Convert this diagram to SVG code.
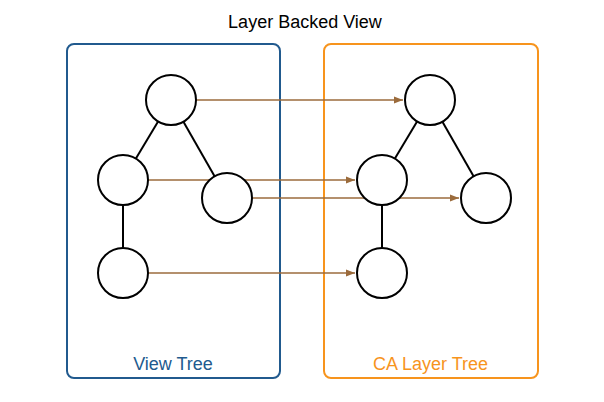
<svg xmlns="http://www.w3.org/2000/svg" width="604" height="402" viewBox="0 0 604 402">
<defs>
<style>
.title{font-family:"Liberation Sans","DejaVu Sans",sans-serif;font-size:18px;fill:#000;text-anchor:middle}
.label{font-family:"Liberation Sans","DejaVu Sans",sans-serif;font-size:18px;text-anchor:middle}
.node{fill:#fff;stroke:#000;stroke-width:2}
.edge{stroke:#000;stroke-width:2;fill:none}
.map{stroke:#9b6b3c;stroke-width:1.5;fill:none;marker-end:url(#ah)}
</style>
<marker id="ah" markerWidth="10" markerHeight="8" refX="9" refY="4" orient="auto" markerUnits="userSpaceOnUse">
<path d="M0,0.5 L9,4 L0,7.5 Z" fill="#9b6b3c"/>
</marker>
</defs>
<rect width="604" height="402" fill="#fff"/>
<text class="title" x="305" y="28">Layer Backed View</text>
<g id="viewTree">
<rect x="67" y="44" width="213" height="334" rx="7" fill="none" stroke="#215a8e" stroke-width="2"/>
<text class="label" x="173" y="370" fill="#215a8e">View Tree</text>
</g>
<g id="caLayerTree">
<rect x="324" y="44" width="214" height="334" rx="7" fill="none" stroke="#f7941d" stroke-width="2"/>
<text class="label" x="430.5" y="370" fill="#f7941d">CA Layer Tree</text>
</g>
<g id="connectors">
<line class="edge" x1="171" y1="100" x2="123" y2="180"/>
<line class="edge" x1="171" y1="100" x2="227" y2="198"/>
<line class="edge" x1="123" y1="180" x2="123" y2="273"/>
<line class="edge" x1="430" y1="100" x2="382" y2="180"/>
<line class="edge" x1="430" y1="100" x2="486" y2="198"/>
<line class="edge" x1="382" y1="180" x2="382" y2="273"/>
<line class="map" x1="196" y1="100" x2="403" y2="100"/>
<line class="map" x1="148" y1="180" x2="355" y2="180"/>
<line class="map" x1="252" y1="198" x2="459" y2="198"/>
<line class="map" x1="148" y1="273" x2="355" y2="273"/>
</g>
<g id="v-root"><circle class="node" cx="171" cy="100" r="25"/></g>
<g id="v-left"><circle class="node" cx="123" cy="180" r="25"/></g>
<g id="v-right"><circle class="node" cx="227" cy="198" r="25"/></g>
<g id="v-bottom"><circle class="node" cx="123" cy="273" r="25"/></g>
<g id="l-root"><circle class="node" cx="430" cy="100" r="25"/></g>
<g id="l-left"><circle class="node" cx="382" cy="180" r="25"/></g>
<g id="l-right"><circle class="node" cx="486" cy="198" r="25"/></g>
<g id="l-bottom"><circle class="node" cx="382" cy="273" r="25"/></g>
</svg>
